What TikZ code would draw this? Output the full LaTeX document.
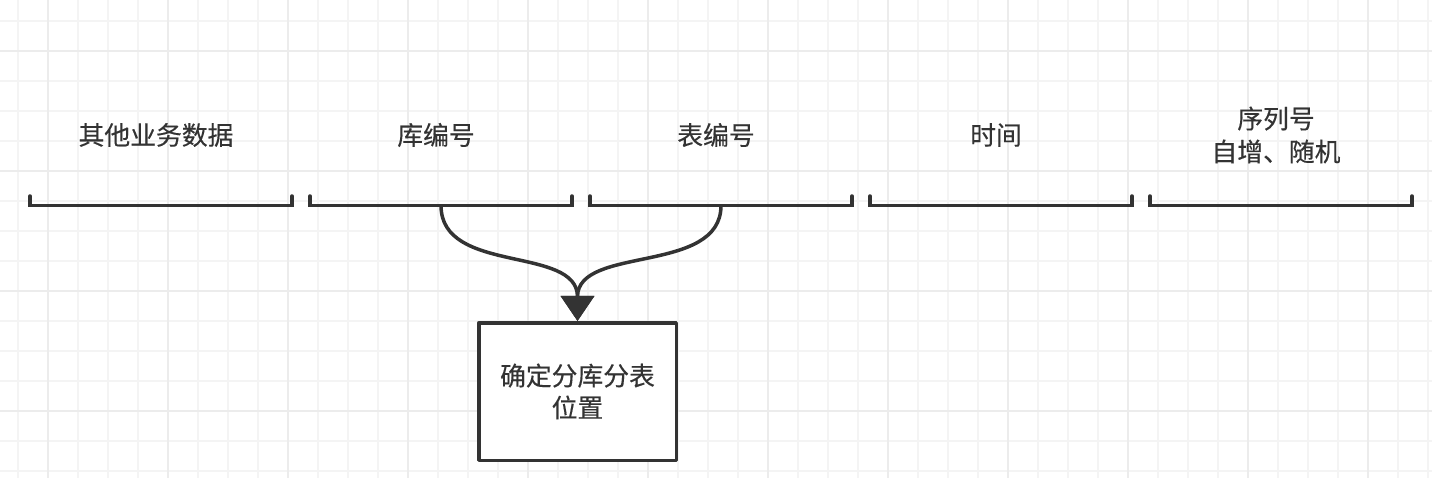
\documentclass[tikz,border=0pt]{standalone}
\usepackage{fontspec}
\newfontfamily\cjk[FakeBold=0.3]{Noto Sans CJK SC}
\usetikzlibrary{arrows.meta}

\definecolor{ink}{HTML}{333333}
\definecolor{gridminor}{HTML}{F4F4F4}
\definecolor{gridmajor}{HTML}{ECECEC}

\tikzset{
  fieldlabel/.style={text=ink, font=\cjk\fontsize{25.8}{33}\selectfont, align=center, inner sep=0pt},
  bracketline/.style={draw=ink, line width=3.5pt, line cap=round, line join=miter},
  posbox/.style={draw=ink, line width=3.5pt, fill=white, text=ink, align=center,
    font=\cjk\fontsize{25.8}{32}\selectfont, minimum width=197.5pt, minimum height=137.5pt, inner sep=0pt},
  flow/.style={draw=ink, line width=3.5pt, -{Triangle[width=33pt, length=25pt]}},
}

\begin{document}
\begin{tikzpicture}[x=1pt, y=-1pt, line join=round]
  \useasboundingbox (0,0) rectangle (1432,478);

  % background grid
  \foreach \x in {18,48,...,1428}
    \draw[gridminor, line width=1.5pt] (\x,0) -- (\x,478);
  \foreach \y in {21,51,...,471}
    \draw[gridminor, line width=1.5pt] (0,\y) -- (1432,\y);
  \foreach \x in {48,168,...,1428}
    \draw[gridmajor, line width=2pt] (\x,0) -- (\x,478);
  \foreach \y in {51,171,...,471}
    \draw[gridmajor, line width=2pt] (0,\y) -- (1432,\y);

  % fields of the id
  \foreach \i/\txt in {0/其他业务数据, 1/库编号, 2/表编号, 3/时间, 4/{序列号\\自增、随机}} {
    \node[fieldlabel] (f\i) at (156+280*\i,135) {\txt};
    \draw[bracketline] (30+280*\i,196) -- ++(0,9.5) -- ++(262,0) -- ++(0,-9.5);
  }

  \coordinate (ku) at (441,205.5);
  \coordinate (biao) at (721,205.5);

  \node[posbox] (pos) at (577.5,391.5) {确定分库分表\\位置};

  \draw[flow] (ku) .. controls (441,275) and (577.5,245) .. (pos.north);
  \draw[flow] (biao) .. controls (721,275) and (577.5,245) .. (pos.north);
\end{tikzpicture}
\end{document}
